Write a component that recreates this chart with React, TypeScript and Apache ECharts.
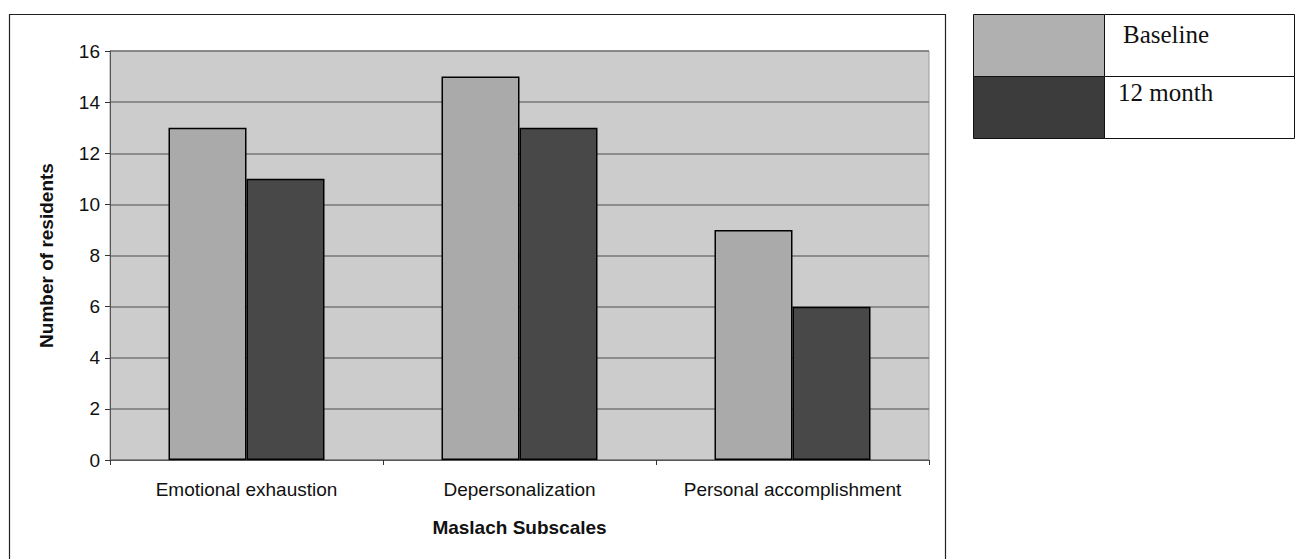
import React, { useEffect, useRef } from "react";
import * as echarts from "echarts";

const categories = ["Emotional exhaustion", "Depersonalization", "Personal accomplishment"];
const baseline = [13, 15, 9];
const month12 = [11, 13, 6];
const seriesNames = ["Baseline", "12 month"];
const yTicks = { min: 0, max: 16, interval: 2 };

export default function App() {
  const ref = useRef<HTMLDivElement>(null);
  useEffect(() => {
    const chart = echarts.init(ref.current!, null, { renderer: "svg" });
    const font = "Liberation Sans";
    chart.setOption({
      animation: false,
      backgroundColor: "#ffffff",
      grid: { left: 110, top: 51, width: 819, height: 409, show: true, backgroundColor: "#cccccc", borderColor: "#999999", borderWidth: 1 },
      xAxis: {
        type: "category",
        data: categories,
        name: "Maslach Subscales",
        nameLocation: "middle",
        nameGap: 58,
        nameTextStyle: { fontFamily: font, fontWeight: "bold", fontSize: 19, color: "#111" },
        axisLine: { lineStyle: { color: "#555", width: 1 } },
        axisTick: { show: true, alignWithLabel: false, length: 5, lineStyle: { color: "#333" } },
        axisLabel: { fontFamily: font, fontSize: 19, color: "#111", margin: 20, interval: 0 },
      },
      yAxis: {
        type: "value",
        min: yTicks.min,
        max: yTicks.max,
        interval: yTicks.interval,
        name: "Number of residents",
        nameLocation: "middle",
        nameGap: 54,
        nameTextStyle: { fontFamily: font, fontWeight: "bold", fontSize: 19, color: "#111" },
        axisLine: { show: true, lineStyle: { color: "#555" } },
        axisTick: { show: true, length: 5, lineStyle: { color: "#333" } },
        axisLabel: { fontFamily: font, fontSize: 19, color: "#111", margin: 10 },
        splitLine: { lineStyle: { color: "#777777", width: 1.5 } },
      },
      series: [
        {
          name: seriesNames[0],
          type: "bar",
          data: baseline,
          barWidth: 78,
          barGap: "0%",
          itemStyle: { color: "#aaaaaa", borderColor: "#000", borderWidth: 1.5 },
        },
        {
          name: seriesNames[1],
          type: "bar",
          data: month12,
          barWidth: 78,
          barGap: "0%",
          itemStyle: { color: "#484848", borderColor: "#000", borderWidth: 1.5 },
        },
      ],
      graphic: [
        { type: "rect", shape: { x: 9.5, y: 14.5, width: 936, height: 560 }, style: { fill: "none", stroke: "#222", lineWidth: 1.2 }, silent: true },
        { type: "rect", shape: { x: 973.5, y: 14.5, width: 131, height: 62 }, style: { fill: "#b0b0b0", stroke: "#111", lineWidth: 1 } },
        { type: "rect", shape: { x: 973.5, y: 76.5, width: 131, height: 62 }, style: { fill: "#3c3c3c", stroke: "#111", lineWidth: 1 } },
        { type: "rect", shape: { x: 1104.5, y: 14.5, width: 190, height: 62 }, style: { fill: "#fff", stroke: "#111", lineWidth: 1 } },
        { type: "rect", shape: { x: 1104.5, y: 76.5, width: 190, height: 62 }, style: { fill: "#fff", stroke: "#111", lineWidth: 1 } },
        { type: "text", x: 1123, y: 34, style: { text: seriesNames[0], font: "25px 'Liberation Serif'", fill: "#111", verticalAlign: "middle" } },
        { type: "text", x: 1118, y: 92, style: { text: seriesNames[1], font: "25px 'Liberation Serif'", fill: "#111", verticalAlign: "middle" } },
      ],
    });
    return () => chart.dispose();
  }, []);
  return <div ref={ref} style={{ position: "fixed", left: 0, top: 0, width: 1300, height: 559 }} />;
}
